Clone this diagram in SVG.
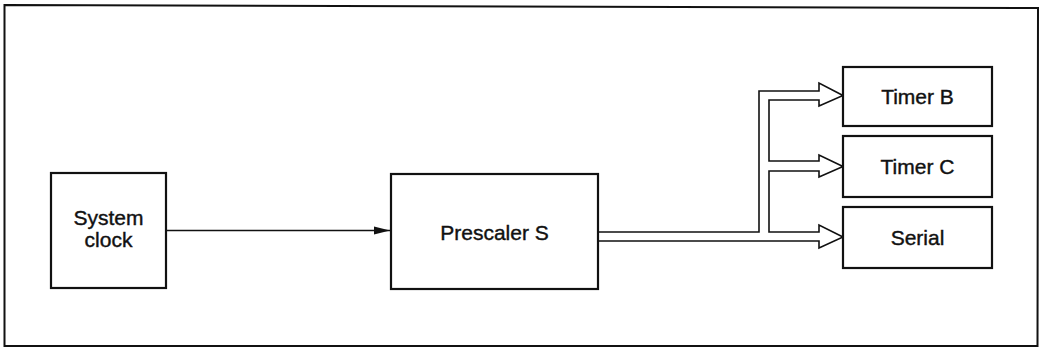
<svg xmlns="http://www.w3.org/2000/svg" width="1039" height="349" viewBox="0 0 1039 349">
<style>
.box{fill:#fff;stroke:#111;stroke-width:2.2}
.lbl{font-family:"Liberation Sans",Arial,sans-serif;font-size:21px;fill:#111;stroke:#111;stroke-width:0.4;text-anchor:middle}
.wire{fill:none;stroke:#111;stroke-width:1.5}
.bus{fill:#fff;stroke:#111;stroke-width:1.6;stroke-linejoin:miter}
</style>
<defs>
<marker id="arr" markerWidth="18" markerHeight="10" refX="16" refY="5" orient="auto" markerUnits="userSpaceOnUse">
<path d="M0,1 L16,5 L0,9 Z" fill="#111"/>
</marker>
</defs>
<path id="frame" d="M4.5,5 L1038,8 L1037.5,346 L4.5,346 Z" fill="none" stroke="#111" stroke-width="2"/>
<g id="connectors">
<line class="wire" x1="166" y1="230.5" x2="390" y2="230.5" marker-end="url(#arr)"/>
<path class="bus" d="M598,232 L759,232 L759,91 L819,91 L819,83 L843,95.5 L819,106 L819,100 L769,100 L769,161 L819,161 L819,155 L843,166.5 L819,177 L819,171 L769,171 L769,232 L819,232 L819,225 L843,237 L819,248 L819,241 L598,241"/>
</g>
<g id="system-clock">
<rect class="box" x="51" y="173" width="115" height="115"/>
<text class="lbl" x="108.5" y="225">System</text>
<text class="lbl" x="108.5" y="247">clock</text>
</g>
<g id="prescaler-s">
<rect class="box" x="391" y="174" width="207" height="115"/>
<text class="lbl" x="494.5" y="240">Prescaler S</text>
</g>
<g id="timer-b">
<rect class="box" x="843" y="67" width="149" height="59"/>
<text class="lbl" x="917.5" y="104">Timer B</text>
</g>
<g id="timer-c">
<rect class="box" x="843" y="136" width="149" height="61"/>
<text class="lbl" x="917.5" y="174">Timer C</text>
</g>
<g id="serial">
<rect class="box" x="843" y="207" width="149" height="61"/>
<text class="lbl" x="917.5" y="245">Serial</text>
</g>
</svg>
